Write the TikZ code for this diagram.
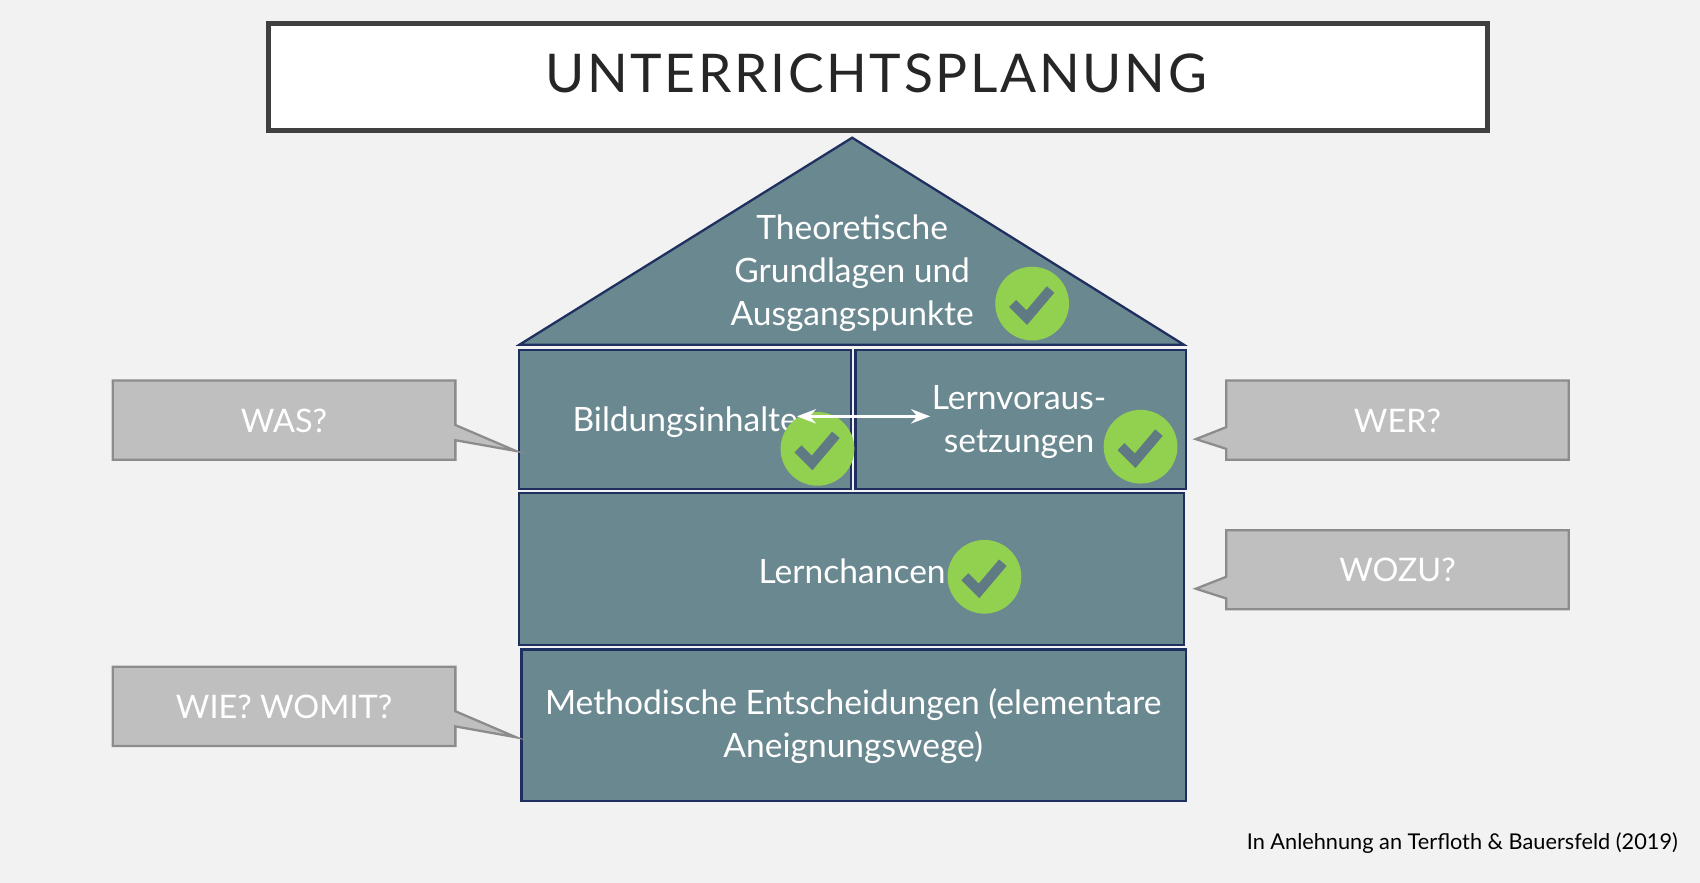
\documentclass[tikz,border=0pt]{standalone}
\usepackage{fontspec}
\setmainfont{Lato}
\usetikzlibrary{arrows.meta,calc}
\definecolor{bg}{HTML}{F2F2F2}
\definecolor{slate}{HTML}{6A8890}
\definecolor{navy}{HTML}{1F2F5F}
\definecolor{callfill}{HTML}{BFBFBF}
\definecolor{callline}{HTML}{8C8C8C}
\definecolor{okgreen}{HTML}{92D050}
\definecolor{tick}{HTML}{5F7A82}
\tikzset{
  block/.style={fill=slate,draw=navy,line width=0.6pt},
  btext/.style={text=white,font=\fontsize{8.8pt}{11.3pt}\selectfont,align=center},
  callout/.style={fill=callfill,draw=callline,line width=0.6pt},
  ctext/.style={text=white,font=\fontsize{8.5pt}{10pt}\selectfont},
}
\newcommand{\okmark}[2]{%
  \fill[okgreen] (#1,#2) circle (34);
  \draw[tick,line width=2.6pt] ($(#1,#2)+(-18,0)$) -- ($(#1,#2)+(-5,13)$) -- ($(#1,#2)+(17,-13)$);}
\begin{document}
\begin{tikzpicture}[x=0.01cm,y=-0.01cm]
\fill[bg] (0,0) rectangle (1568,814);
\useasboundingbox (0,0) rectangle (1568,814);
% title
\draw[fill=white,draw=black!75,line width=1.3pt] (248,22) rectangle (1372,120);
\node[font=\fontsize{14pt}{17pt}\selectfont,text=black!85] (title) at (808,68) {\addfontfeature{LetterSpace=5}UNTERRICHTSPLANUNG};
% roof
\draw[block] (786,127) -- (1092,318) -- (479,318) -- cycle;
\node[btext] (roof) at (786,252) {Theoretische\\Grundlagen und\\Ausgangspunkte};
% blocks
\draw[block] (479,323) rectangle (785,451);
\draw[block] (789,323) rectangle (1094,451);
\draw[block] (479,455) rectangle (1092,595);
\draw[block] (481,599) rectangle (1094,739);
\node[btext] (bild) at (632,389) {Bildungsinhalte};
\node[btext] (lern) at (940,389) {Lernvoraus-\\setzungen};
\node[btext] (chance) at (786,527) {Lernchancen};
\node[btext] (meth) at (787,670) {Methodische Entscheidungen (elementare\\Aneignungswege)};
\coordinate (al) at (735,384);
\coordinate (ar) at (858,384);
% checks
\okmark{952}{280}
\okmark{754}{414}
\okmark{1052}{412}
\okmark{908}{532}
\draw[white,line width=0.8pt,{Stealth[length=5pt]}-{Stealth[length=5pt]}] (al) -- (ar);
% callouts
\draw[callout] (104,351) -- (420,351) -- (420,392) -- (476,416) -- (420,406) -- (420,424) -- (104,424) -- cycle;
\node[ctext] (was) at (262,388) {WAS?};
\draw[callout] (1131,351) -- (1447,351) -- (1447,424) -- (1131,424) -- (1131,414) -- (1103,405) -- (1131,394) -- cycle;
\node[ctext] (wer) at (1289,388) {WER?};
\draw[callout] (1131,489) -- (1447,489) -- (1447,562) -- (1131,562) -- (1131,552) -- (1103,543) -- (1131,532) -- cycle;
\node[ctext] (wozu) at (1289,526) {WOZU?};
\draw[callout] (104,615) -- (420,615) -- (420,656) -- (476,680) -- (420,670) -- (420,688) -- (104,688) -- cycle;
\node[ctext] (wie) at (262,652) {WIE? WOMIT?};
% footer
\node[anchor=east,font=\fontsize{5.7pt}{7pt}\selectfont] (foot) at (1560,778) {In Anlehnung an Terfloth \& Bauersfeld (2019)};
\end{tikzpicture}
\end{document}
